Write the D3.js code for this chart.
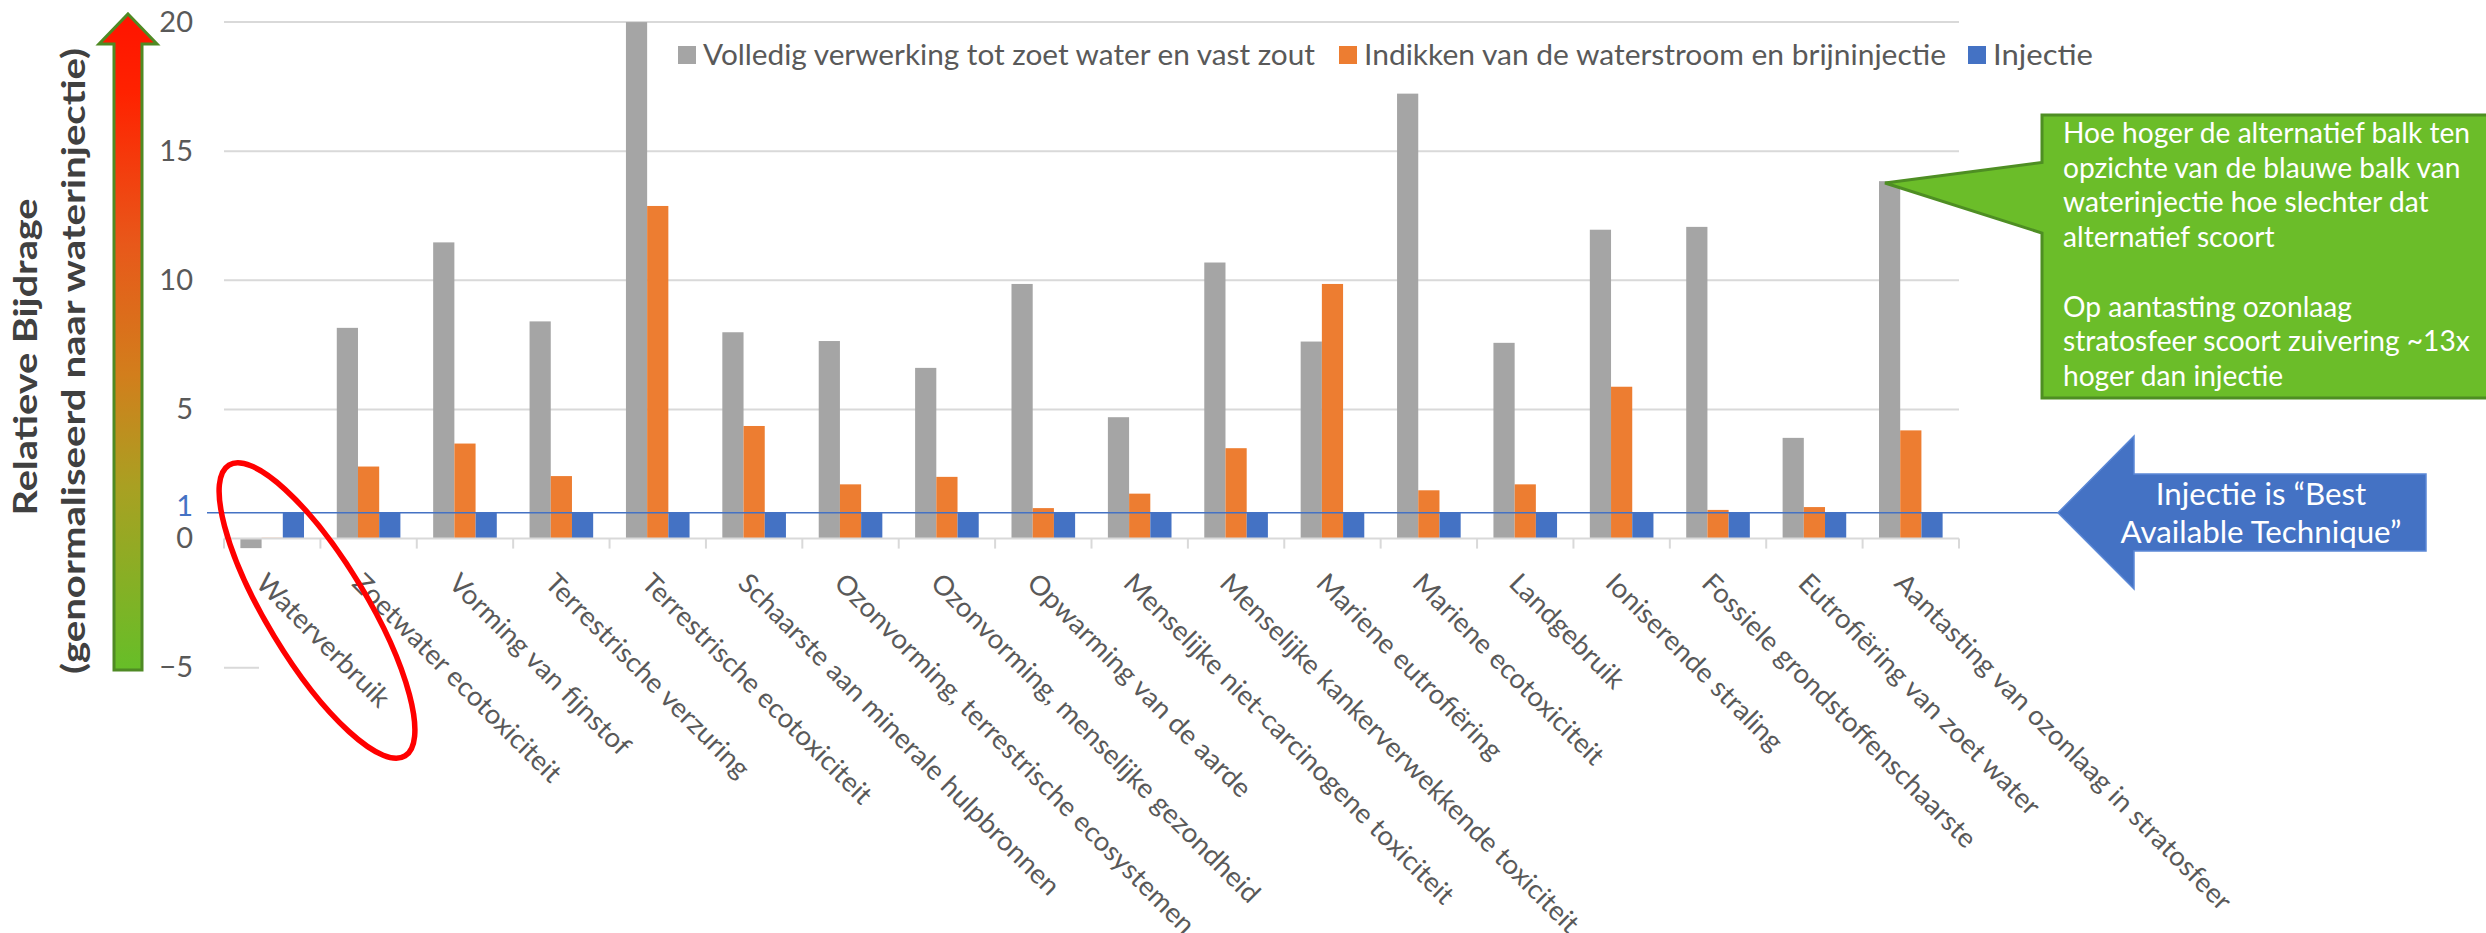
<!DOCTYPE html>
<html><head><meta charset="utf-8">
<script src="https://cdn.jsdelivr.net/npm/d3@7"></script>
<style>body{margin:0;background:#fff} svg{display:block}</style>
</head><body>
<svg id="c" width="2486" height="933"></svg>
<script>
const categories = ["Waterverbruik","Zoetwater ecotoxiciteit","Vorming van fijnstof","Terrestrische verzuring","Terrestrische ecotoxiciteit","Schaarste aan minerale hulpbronnen","Ozonvorming, terrestrische ecosystemen","Ozonvorming, menselijke gezondheid","Opwarming van de aarde","Menselijke niet-carcinogene toxiciteit","Menselijke kankerverwekkende toxiciteit","Mariene eutrofiëring","Mariene ecotoxiciteit","Landgebruik","Ioniserende straling","Fossiele grondstoffenschaarste","Eutrofiëring van zoet water","Aantasting van ozonlaag in stratosfeer"];
const seriesNames = ["Volledig verwerking tot zoet water en vast zout","Indikken van de waterstroom en brijninjectie","Injectie"];
const volledig = [-0.37, 8.16, 11.47, 8.41, 20.0, 7.99, 7.65, 6.61, 9.86, 4.70, 10.69, 7.63, 17.23, 7.58, 11.96, 12.07, 3.90, 13.84];
const indikken = [0.03, 2.79, 3.68, 2.42, 12.88, 4.36, 2.10, 2.39, 1.18, 1.74, 3.50, 9.86, 1.87, 2.10, 5.88, 1.11, 1.22, 4.19];
const injectie = [1, 1, 1, 1, 1, 1, 1, 1, 1, 1, 1, 1, 1, 1, 1, 1, 1, 1];
const yTicks = [-5, 0, 5, 10, 15, 20];
const gridTicks = [5, 10, 15, 20];
const refValue = 1;
const yTitle = ["Relatieve Bijdrage", "(genormaliseerd naar waterinjectie)"];
const greenNote = ["Hoe hoger de alternatief balk ten","opzichte van de blauwe balk van","waterinjectie hoe slechter dat","alternatief scoort","","Op aantasting ozonlaag","stratosfeer scoort zuivering ~13x","hoger dan injectie"];
const blueNote = ["Injectie is \u201CBest", "Available Technique\u201D"];

const colors = ["#A5A5A5", "#ED7D31", "#4472C4"];
const FONT = "Lato, 'Open Sans', sans-serif";
const svg = d3.select("#c");

const L = 224, R = 1959;
const x = d3.scaleBand().domain(categories).range([L, R]);
const bw = x.bandwidth();
const xs = d3.scaleBand().domain(seriesNames).range([bw*0.17, bw*0.83]);
const y = d3.scaleLinear().domain([-5, 20]).range([667.7, 22.1]);

function fit(sel, target){ const n = sel.node().getComputedTextLength(); sel.attr("textLength", target).attr("lengthAdjust","spacingAndGlyphs"); return n; }

// gridlines
svg.append("g").selectAll("line").data(gridTicks).join("line")
  .attr("x1", L).attr("x2", R).attr("y1", d=>y(d)).attr("y2", d=>y(d))
  .attr("stroke", "#D9D9D9").attr("stroke-width", 2);
svg.append("line").attr("x1", L).attr("x2", 259).attr("y1", y(-5)).attr("y2", y(-5))
  .attr("stroke", "#D9D9D9").attr("stroke-width", 2);

// bars
const series = [volledig, indikken, injectie];
series.forEach((vals, si) => {
  svg.append("g").selectAll("rect").data(vals).join("rect")
    .attr("x", (d,i) => x(categories[i]) + xs(seriesNames[si]))
    .attr("width", xs.bandwidth())
    .attr("y", d => y(Math.max(0, d)))
    .attr("height", d => Math.abs(y(d) - y(0)))
    .attr("fill", colors[si]);
});

// category axis
svg.append("line").attr("x1", L).attr("x2", R).attr("y1", y(0)).attr("y2", y(0))
  .attr("stroke", "#D9D9D9").attr("stroke-width", 2);
const bounds = categories.map(c => x(c)).concat([R]);
svg.append("g").selectAll("line").data(bounds).join("line")
  .attr("x1", d=>d).attr("x2", d=>d).attr("y1", y(0)).attr("y2", y(0)+10)
  .attr("stroke", "#D9D9D9").attr("stroke-width", 2);

// y axis labels
const ax = svg.append("g").attr("transform", `translate(${L},0)`)
  .call(d3.axisLeft(y).tickValues(yTicks).tickSize(0).tickPadding(31).tickFormat(d3.format("d")));
ax.select(".domain").remove();
ax.selectAll("text").attr("font-family", FONT).attr("font-size", 29).attr("fill", "#595959");

// reference line at 1
svg.append("line").attr("x1", 207).attr("x2", 2058).attr("y1", y(refValue)).attr("y2", y(refValue))
  .attr("stroke", "#4472C4").attr("stroke-width", 1.6);
svg.append("text").attr("x", 193).attr("y", y(refValue) - 4).attr("text-anchor","end")
  .attr("dominant-baseline","middle").attr("font-family", FONT).attr("font-size", 29)
  .attr("fill", "#4472C4").text(refValue);

// category labels
const labs = svg.append("g").selectAll("text").data(categories).join("text")
  .attr("transform", d => `translate(${x(d) + bw/2 - 4},571) rotate(45)`)
  .attr("dy", "0.72em").attr("font-family", FONT).attr("font-size", 27).attr("fill", "#595959")
  .text(d => d);
const refLab = labs.filter((d,i)=> i===categories.length-1);
const kLab = 463 / refLab.node().getComputedTextLength();
labs.each(function(){ const s = d3.select(this); s.attr("textLength", this.getComputedTextLength()*kLab).attr("lengthAdjust","spacingAndGlyphs"); });

// legend
const legX = [678, 1339, 1968], legW = [612, 582, 100];
seriesNames.forEach((n,i) => {
  svg.append("rect").attr("x", legX[i]).attr("y", 46).attr("width", 18).attr("height", 18).attr("fill", colors[i]);
  const t = svg.append("text").attr("x", legX[i] + 25).attr("y", 65).attr("font-family", FONT)
    .attr("font-size", 29).attr("fill", "#595959").text(n);
  fit(t, legW[i]);
});

// left gradient arrow
const defs = svg.append("defs");
const g = defs.append("linearGradient").attr("id","ga").attr("x1",0).attr("y1",0).attr("x2",0).attr("y2",1);
[[0,"#ff1400"],[0.12,"#ff2200"],[0.35,"#e8581a"],[0.55,"#d27e1c"],[0.72,"#a9a022"],[1,"#66be28"]]
  .forEach(s => g.append("stop").attr("offset", s[0]).attr("stop-color", s[1]));
svg.append("path").attr("d", "M128,14 L157,44 L142,44 L142,670 L114,670 L114,44 L99,44 Z")
  .attr("fill", "url(#ga)").attr("stroke", "#4f8a24").attr("stroke-width", 3);

// y title
[[37, 357, yTitle[0], 317], [85, 361, yTitle[1], 626]].forEach(([tx, ty, s, w]) => {
  const t = svg.append("text").attr("transform", `translate(${tx},${ty}) rotate(-90)`)
    .attr("text-anchor","middle").attr("font-family", FONT).attr("font-weight", "bold")
    .attr("font-size", 33).attr("fill", "#404040").text(s);
  fit(t, w);
});

// green callout
svg.append("path").attr("d", "M2042,115 L2500,115 L2500,398 L2042,398 L2042,233 L1885,183 L2042,162.5 Z")
  .attr("fill", "#6bbd29").attr("stroke", "#4e8e23").attr("stroke-width", 3);
const gl = svg.append("g").selectAll("text").data(greenNote).join("text")
  .attr("x", 2063).attr("y", (d,i) => 143 + i*34.7).attr("font-family", FONT)
  .attr("font-size", 29).attr("fill", "#fff").text(d => d);
const kG = 407 / gl.nodes()[0].getComputedTextLength();
gl.each(function(d){ if (d) d3.select(this).attr("textLength", this.getComputedTextLength()*kG).attr("lengthAdjust","spacingAndGlyphs"); });

// blue callout
svg.append("path").attr("d", "M2058,512.8 L2134,436 L2134,474 L2426,474 L2426,551 L2134,551 L2134,589 Z")
  .attr("fill", "#4472C4").attr("stroke", "#5b88d6").attr("stroke-width", 1.5);
const bl = svg.append("g").selectAll("text").data(blueNote).join("text")
  .attr("x", 2261).attr("y", (d,i) => 505 + i*37.5).attr("text-anchor","middle").attr("font-family", FONT)
  .attr("font-size", 30).attr("fill", "#fff").text(d => d);
const kB = 281 / bl.nodes()[1].getComputedTextLength();
bl.each(function(){ d3.select(this).attr("textLength", this.getComputedTextLength()*kB).attr("lengthAdjust","spacingAndGlyphs"); });

// red ellipse
svg.append("ellipse").attr("cx", 317).attr("cy", 610.5).attr("rx", 170).attr("ry", 50)
  .attr("transform", "rotate(58.8,317,610.5)").attr("fill", "none")
  .attr("stroke", "#ff0000").attr("stroke-width", 5.5);
</script>
</body></html>
